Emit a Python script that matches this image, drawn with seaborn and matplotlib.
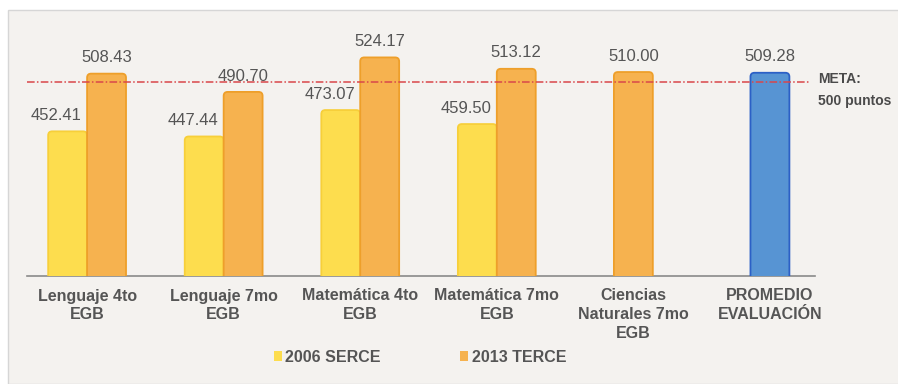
import matplotlib
matplotlib.use("Agg")
import matplotlib.pyplot as plt
from matplotlib.patches import FancyBboxPatch, Rectangle
import seaborn as sns
import pandas as pd

# Scores by evaluation area
categories = ["Lenguaje 4to\nEGB", "Lenguaje 7mo\nEGB", "Matemática 4to\nEGB",
              "Matemática 7mo\nEGB", "Ciencias\nNaturales 7mo\nEGB", "PROMEDIO\nEVALUACIÓN"]
series = ["2006 SERCE", "2013 TERCE"]
serce_2006 = [452.41, 447.44, 473.07, 459.50]
terce_2013 = [508.43, 490.70, 524.17, 513.12]
single_labels = ["Ciencias\nNaturales 7mo\nEGB", "PROMEDIO\nEVALUACIÓN"]
single_values = [510.00, 509.28]
meta_value = 500

YELLOW, YELLOW_EDGE = "#FDDD4E", "#F7CF3A"
ORANGE, ORANGE_EDGE = "#F6B24F", "#EE9F2A"
BLUE, BLUE_EDGE = "#5794D3", "#2C60C6"
PANEL = "#F4F2EF"
TEXT = "#555555"
FONT = ["Liberation Sans", "DejaVu Sans"]

sns.set_theme(style="white")
plt.rcParams["font.family"] = FONT

paired = pd.DataFrame({
    "area": categories[:4] * 2,
    "serie": [series[0]] * 4 + [series[1]] * 4,
    "puntaje": serce_2006 + terce_2013,
})
single = pd.DataFrame({"area": single_labels, "puntaje": single_values})

fig = plt.figure(figsize=(8.98, 3.84), dpi=100, facecolor="white")
fig.patches.append(Rectangle((8 / 898, 0), 1, 1 - 10 / 384, transform=fig.transFigure,
                             facecolor=PANEL, edgecolor="#D6D6D6", lw=1.0, zorder=-10))
ax = fig.add_axes([27 / 898, 1 - 276 / 384, 788 / 898, 256 / 384])
ax.set_facecolor("none")

sns.barplot(data=paired, x="area", y="puntaje", hue="serie", order=categories,
            hue_order=series, palette=[YELLOW, ORANGE], width=0.57, ax=ax,
            saturation=1, linewidth=1.2, legend=False)
sns.barplot(data=single, x="area", y="puntaje", hue="area", order=categories,
            hue_order=single_labels, palette=[ORANGE, BLUE], width=0.285,
            saturation=1, dodge=False, ax=ax, linewidth=1.2, legend=False)

ax.set_xlim(-0.44, 5.33)
ax.set_ylim(312, 560.5)

# Swap the square bars for ones with rounded tops
edge_for = {YELLOW: YELLOW_EDGE, ORANGE: ORANGE_EDGE, BLUE: BLUE_EDGE}
x_per_px = (5.33 + 0.44) / 788
y_per_px = (560.5 - 312) / 256
bars = []
for p in list(ax.patches):
    h = p.get_height()
    if h <= 0:
        p.remove()
        continue
    fc = matplotlib.colors.to_hex(p.get_facecolor()).upper()
    edge = edge_for.get(fc, fc)
    rb = FancyBboxPatch((p.get_x(), p.get_y()), p.get_width(), h,
                        boxstyle=f"round,pad=0,rounding_size={4 * x_per_px}",
                        mutation_aspect=y_per_px / x_per_px,
                        facecolor=fc, edgecolor=edge, lw=1.3, zorder=3)
    bars.append((fc, p.get_x() + p.get_width() / 2, h))
    p.remove()
    ax.add_patch(rb)

# Value labels above each bar
for fc, xc, h in bars:
    dx = -8 if fc == YELLOW else 0
    ax.annotate(f"{h:.2f}", (xc, h), xytext=(dx, 6), textcoords="offset points",
                ha="center", va="bottom", fontsize=12, color=TEXT, zorder=5)

# Target line
ax.axhline(meta_value, xmin=0, xmax=0.992, color="#D9474A", lw=1.1,
           linestyle=(0, (5, 1.5, 1, 1.5)), zorder=4)
ax.annotate("META:\n500 puntos", (1.0, meta_value), xycoords=("axes fraction", "data"),
            xytext=(2, 7.5), textcoords="offset points", ha="left", va="top",
            fontsize=10, fontweight="bold", color="#4A4A4A", linespacing=1.75,
            annotation_clip=False)

sns.despine(ax=ax, left=True, top=True, right=True)
ax.spines["bottom"].set_color("#8A8A8A")
ax.spines["bottom"].set_linewidth(1.2)
ax.set_yticks([])
ax.set_xlabel("")
ax.set_ylabel("")
ax.tick_params(axis="x", length=0, pad=9)
for t in ax.get_xticklabels():
    t.set_fontsize(11.5)
    t.set_fontweight("bold")
    t.set_color(TEXT)
    t.set_linespacing(1.3)

handles = [Rectangle((0, 0), 1, 1, facecolor=YELLOW, edgecolor="none"),
           Rectangle((0, 0), 1, 1, facecolor=ORANGE, edgecolor="none")]
fig.legend(handles, series, loc="center", bbox_to_anchor=(420 / 898, 1 - 357 / 384),
           ncol=2, frameon=False, handlelength=0.5, handleheight=0.65, handletextpad=0.2,
           columnspacing=5.0, prop={"family": FONT, "size": 11.5, "weight": "bold"},
           labelcolor=TEXT)

fig.savefig("out.png", dpi=100, facecolor="white")
